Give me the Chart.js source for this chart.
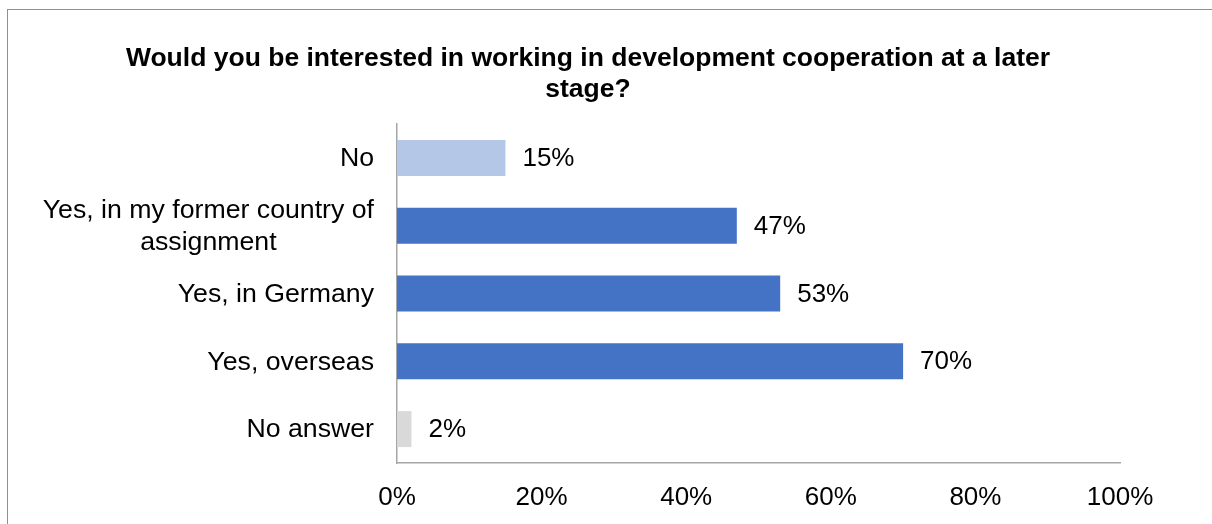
<!DOCTYPE html>
<html>
<head>
<meta charset="utf-8">
<script src="https://cdn.jsdelivr.net/npm/chart.js@4/dist/chart.umd.min.js"></script>
<style>
    html, body { margin: 0; padding: 0; background: #fff; overflow: hidden; }
    #frame { position: absolute; left: 7px; top: 9px; width: 1400px; height: 700px; border: 1px solid #8f8f8f; }
    #chart { position: absolute; left: 0; top: 0; }
</style>
</head>
<body>
<div id="frame"></div>
<canvas id="chart" width="1212" height="524"></canvas>
<script>
const categories = [
    ["No"],
    ["Yes, in my former country of", "assignment"],
    ["Yes, in Germany"],
    ["Yes, overseas"],
    ["No answer"]
];
const shares = [15, 47, 53, 70, 2];
const barColors = ['#B4C7E7', '#4472C4', '#4472C4', '#4472C4', '#D9D9D9'];
const xTicks = [0, 20, 40, 60, 80, 100];
const titleLines = ["Would you be interested in working in development cooperation at a later", "stage?"];

const FONT = "'Liberation Sans', Arial, sans-serif";

// category labels: block right-aligned to the axis, lines centred within the block
const categoryLabels = {
    id: 'categoryLabels',
    afterDraw(chart) {
        const ctx = chart.ctx;
        const y = chart.scales.y;
        const right = y.right - 23;
        const lh = 31.5;
        ctx.save();
        ctx.font = '26.7px ' + FONT;
        ctx.fillStyle = '#000';
        ctx.textBaseline = 'middle';
        ctx.textAlign = 'center';
        categories.forEach((lines, i) => {
            const cy = y.getPixelForValue(i) + 1;
            const w = Math.max(...lines.map(l => ctx.measureText(l).width));
            const cx = right - w / 2;
            const top = cy - (lines.length - 1) * lh / 2;
            lines.forEach((l, j) => ctx.fillText(l, cx, top + j * lh));
        });
        ctx.restore();
    }
};

// percentage labels at the end of each bar
const valueLabels = {
    id: 'valueLabels',
    afterDatasetsDraw(chart) {
        const ctx = chart.ctx;
        const meta = chart.getDatasetMeta(0);
        ctx.save();
        ctx.font = '26px ' + FONT;
        ctx.fillStyle = '#000';
        ctx.textBaseline = 'middle';
        ctx.textAlign = 'left';
        meta.data.forEach((bar, i) => {
            ctx.fillText(shares[i] + '%', bar.x + 17, bar.y + 1);
        });
        ctx.restore();
    }
};

new Chart(document.getElementById('chart'), {
    type: 'bar',
    data: {
        labels: categories.map(c => c.join(' ')),
        datasets: [{
            data: shares,
            backgroundColor: barColors,
            categoryPercentage: 1,
            barPercentage: 0.53
        }]
    },
    options: {
        indexAxis: 'y',
        responsive: false,
        animation: false,
        layout: { padding: { left: 56, right: 92, top: 0, bottom: 0 } },
        plugins: {
            legend: { display: false },
            tooltip: { enabled: false },
            title: {
                display: true,
                text: titleLines,
                color: '#000',
                font: { family: FONT, size: 26.5, weight: 'bold', lineHeight: 1.17 },
                padding: { top: 43.5, bottom: 18.5 }
            }
        },
        scales: {
            x: {
                min: 0,
                max: 100,
                afterBuildTicks(axis) {
                    axis.ticks = xTicks.map(v => ({ value: v }));
                },
                afterFit(axis) { axis.height = 61; },
                grid: { display: false, drawTicks: false },
                border: { display: true, color: '#a6a6a6', width: 1.5 },
                ticks: {
                    color: '#000',
                    padding: 19,
                    font: { family: FONT, size: 26 },
                    callback: v => v + '%'
                }
            },
            y: {
                grid: { display: false, drawTicks: false },
                border: { display: true, color: '#a6a6a6', width: 1.5 },
                ticks: { display: false },
                afterFit(axis) { axis.width = 341; }
            }
        }
    },
    plugins: [categoryLabels, valueLabels]
});
</script>
</body>
</html>
